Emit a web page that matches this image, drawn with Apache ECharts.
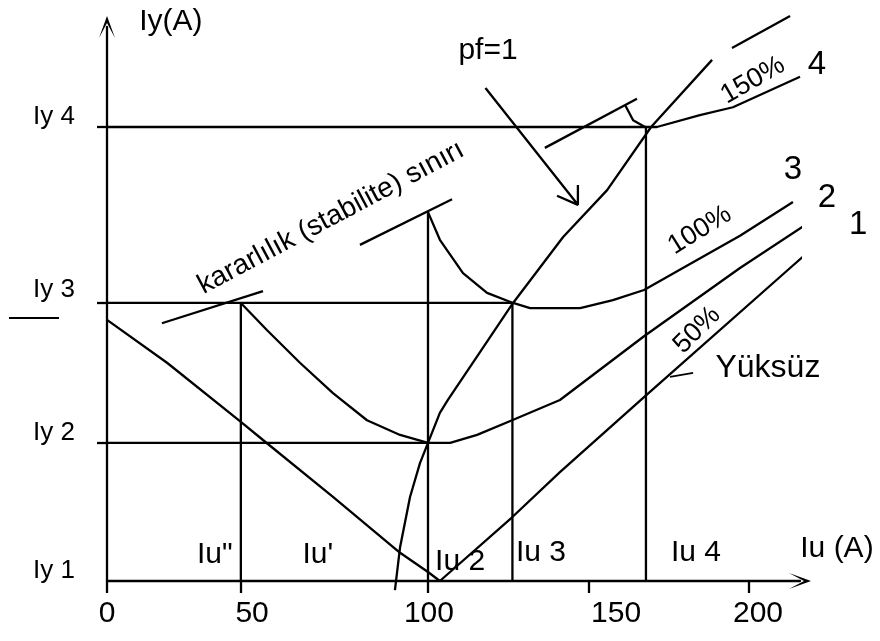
<!DOCTYPE html>
<html><head><meta charset="utf-8">
<script src="https://cdn.jsdelivr.net/npm/echarts@6/dist/echarts.min.js"></script>
<style>html,body{margin:0;padding:0;background:#fff}#c{width:880px;height:641px}</style>
</head><body><div id="c"></div>
<script>
// ---------------- data ----------------
const xTickLabels  = ['0', '50', '100', '150', '200'];
const xTickLabelAt = [0, 45.2, 100.3, 158.6, 202.8];
const xTickMarks   = [0, 41.7, 100, 150, 200];
const yTickLabels  = ['Iy 1', 'Iy 2', 'Iy 3', 'Iy 4'];
const iyLevels     = [0, 24.5, 49.3, 80.5];
const iuNames      = ['Iu"', 'Iu 2', 'Iu 3', 'Iu 4'];
const iuLevels     = [41.7, 100, 126.3, 167.9];
const iuTops       = [49.3, 65.4, 49.3, 80.5];        // where each vertical guide ends
const iyRightEnds  = [100, 126.3, 167.9];            // where Iy2..Iy4 guides end

const curveNoLoad = [[0,46.3],[18.7,38.7],[41.7,28.2],[48.6,25.0],[70.4,14.9],[91.3,5.0],[100,1.6],[103.7,0],
  [126.2,11.3],[141.1,19.3],[167.3,32.6],[212.8,55.5],[225.2,61.7]];
const curve50 = [[41.7,49.3],[49.8,44.5],[60.1,38.7],[70.4,33.3],[81.0,28.5],[91.3,25.9],[100,24.5],[106.9,24.5],
  [115.3,25.9],[126.2,28.5],[141.1,32.1],[167.3,43.4],[197.2,55.5],[219.9,64.0]];
const curve100 = [[100,65.4],[103.7,60.5],[110.9,54.6],[118.4,51.1],[126.5,49.3],[131.8,48.4],[147.4,48.4],
  [157.6,49.8],[167.3,51.6],[179.4,55.5],[197.2,61.2],[213.7,67.2]];
const curve150 = [[161.4,84.4],[163.9,81.7],[167.6,80.5],[171.3,80.5],[184.7,82.6],[195.0,84.0],[215.9,89.4]];
const pfUnity = [[89.7,-1.6],[91.3,6.0],[94.4,14.9],[97.5,20.9],[100,24.5],[103.7,29.8],[106.2,32.1],[116.2,40.6],
  [126.5,49.3],[142.1,61.0],[155.8,69.3],[169.5,80.5],[188.5,92.4]];
const stabilitySegments = [
  [[17.1,45.7],[48.6,51.4]],
  [[78.8,59.6],[107.5,67.7]],
  [[136.4,76.8],[165.1,85.5]],
  [[194.7,94.5],[212.8,100.2]]
];
const pfArrow = [[117.9,87.4],[146.7,66.7],[140.2,68.3],[146.7,66.7],[146.7,70.2]];
const noLoadLeader = [[175.4,36.2],[182.6,36.9]];

// ---------------- layout / styling ----------------
const FONT = '"Liberation Sans", Arial, sans-serif';
const BLACK = '#000';
const LW = 2.3;

function lineSeries(data, w) {
  return { type: 'line', data: data, showSymbol: false, symbol: 'none', clip: false, silent: true,
    lineStyle: { color: BLACK, width: w || LW }, z: 3 };
}

const series = [];
// guides
iuLevels.forEach((x, i) => series.push(lineSeries([[x, 0], [x, iuTops[i]]])));
iyLevels.slice(1).forEach((y, i) => series.push(lineSeries([[0, y], [iyRightEnds[i], y]])));
// curves
[curveNoLoad, curve50, curve100, curve150, pfUnity].forEach(c => series.push(lineSeries(c)));
stabilitySegments.forEach(s => series.push(lineSeries(s)));
series.push(lineSeries(pfArrow));
series.push(lineSeries(noLoadLeader, 1.6));

// text annotations
const annotations = [
  { t: 'Iy(A)', at: [19.9, 99.1], size: 30 },
  { t: 'pf=1', at: [118.7, 94.1], size: 30 },
  { t: 'kararlılık (stabilite) sınırı', at: [69.8, 64.4], size: 28, rot: 28 },
  { t: '150%', at: [201.2, 88.8], size: 27, rot: 30 },
  { t: '100%', at: [184.7, 62.2], size: 27, rot: 32 },
  { t: '50%', at: [183.8, 44.5], size: 27, rot: 45 },
  { t: '4', at: [221.2, 91.5], size: 33 },
  { t: '3', at: [213.7, 72.9], size: 33 },
  { t: '2', at: [224.3, 67.9], size: 33 },
  { t: '1', at: [234.0, 63.1], size: 33 },
  { t: 'Yüksüz', at: [205.9, 37.8], size: 32 },
  { t: iuNames[0], at: [33.6, 4.6], size: 30 },
  { t: "Iu'", at: [65.7, 4.6], size: 30 },
  { t: iuNames[1], at: [110.0, 3.4], size: 30 },
  { t: iuNames[2], at: [135.2, 5.0], size: 30 },
  { t: iuNames[3], at: [183.5, 5.0], size: 30 },
  { t: 'Iu (A)', at: [227.4, 5.7], size: 30 }
];
series.push({
  type: 'scatter', clip: false, silent: true, symbolSize: 1,
  itemStyle: { color: 'rgba(0,0,0,0)', opacity: 1 }, z: 5,
  data: annotations.map(a => ({
    value: a.at,
    label: { show: true, position: 'inside', align: 'center', verticalAlign: 'middle', opacity: 1,
      textBorderWidth: 0, formatter: a.t, rotate: a.rot || 0, fontSize: a.size, color: BLACK, fontFamily: FONT }
  }))
});

const arrowPath = 'path://M0,22 L8,0 L16,22 L8,7 Z';
const findIdx = (arr, v) => arr.findIndex(a => Math.abs(a - v) < 1e-6);

const option = {
  animation: false,
  backgroundColor: '#fff',
  grid: { left: 107, right: 80, top: 27, bottom: 60, containLabel: false },
  xAxis: {
    type: 'value', min: 0, max: 215.89,
    splitLine: { show: false },
    axisLine: { onZero: false, lineStyle: { color: BLACK, width: LW }, symbol: ['none', arrowPath], symbolSize: [16, 24] },
    axisTick: { show: true, customValues: xTickMarks, length: 12, lineStyle: { color: BLACK, width: LW } },
    axisLabel: { customValues: xTickLabelAt, margin: 18, fontSize: 30, color: BLACK, fontFamily: FONT,
      formatter: v => xTickLabels[findIdx(xTickLabelAt, v)] }
  },
  yAxis: {
    type: 'value', min: 0, max: 98.23,
    splitLine: { show: false },
    axisLine: { onZero: false, lineStyle: { color: BLACK, width: LW }, symbol: ['none', arrowPath], symbolSize: [16, 24] },
    axisTick: { show: true, customValues: iyLevels.slice(1), length: 10, lineStyle: { color: BLACK, width: LW } },
    axisLabel: { customValues: iyLevels, margin: 32, color: BLACK, fontFamily: FONT,
      formatter: v => {
        const i = findIdx(iyLevels, v);
        if (i === 2) return '{t|' + yTickLabels[i] + '}\n{u| }{s| }';
        return '{t|' + yTickLabels[i] + '}\n{g| }';
      },
      rich: {
        t: { fontSize: 26, lineHeight: 30, fontFamily: FONT, color: BLACK },
        g: { fontSize: 10, lineHeight: 20, height: 20 },
        u: { width: 50, height: 2, lineHeight: 26, backgroundColor: BLACK, fontSize: 2 },
        s: { width: 16, height: 2, lineHeight: 26, fontSize: 2 }
      }
    }
  },
  series: series
};

const chart = echarts.init(document.getElementById('c'), null, { renderer: 'canvas' });
chart.setOption(option);
</script>
</body></html>
